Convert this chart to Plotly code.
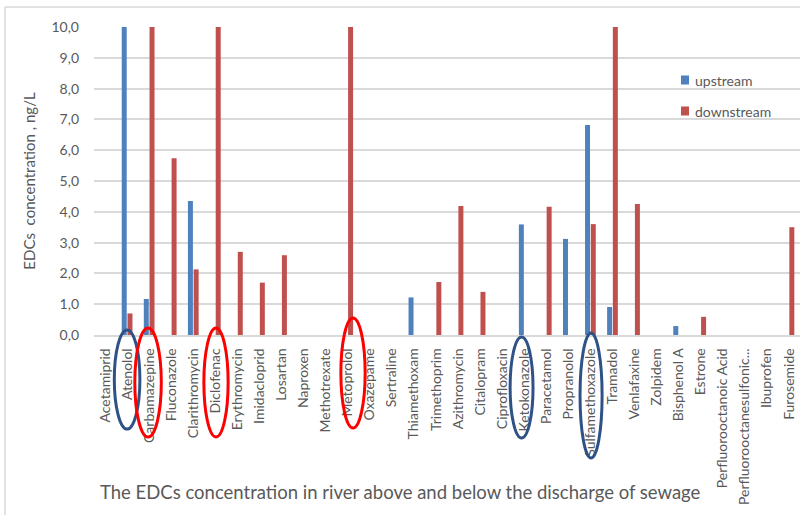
import plotly.graph_objects as go

# Compounds measured in the river
compounds = [
    "Acetamiprid", "Atenolol", "Carbamazepine", "Fluconazole", "Clarithromycin",
    "Diclofenac", "Erythromycin", "Imidacloprid", "Losartan", "Naproxen",
    "Methotrexate", "Metoprolol", "Oxazepame", "Sertraline", "Thiamethoxam",
    "Trimethoprim", "Azithromycin", "Citalopram", "Ciprofloxacin", "Ketokonazole",
    "Paracetamol", "Propranolol", "Sulfamethoxazole", "Tramadol", "Venlafaxine",
    "Zolpidem", "Bisphenol A", "Estrone", "Perfluorooctanoic Acid",
    "Perfluorooctanesulfonic...", "Ibuprofen", "Furosemide",
]

# Concentrations, ng/L (axis is capped at 10)
upstream = [
    0, 10.0, 1.17, 0, 4.35,
    0, 0, 0, 0, 0,
    0, 0, 0, 0, 1.22,
    0, 0, 0, 0, 3.59,
    0, 3.12, 6.82, 0.91, 0,
    0, 0.29, 0, 0,
    0, 0, 0,
]
downstream = [
    0, 0.70, 10.0, 5.74, 2.13,
    10.0, 2.70, 1.70, 2.59, 0,
    0, 10.0, 0, 0, 0,
    1.72, 4.19, 1.40, 0, 0,
    4.16, 0, 3.60, 10.0, 4.25,
    0, 0, 0.59, 0,
    0, 0, 3.50,
]

y_ticks = [0, 1, 2, 3, 4, 5, 6, 7, 8, 9, 10]

BLUE = "#4F81BD"
RED = "#C0504D"
GREY_TEXT = "#595959"
GRID = "#D9D9D9"
FONT = "Lato"

W, H = 800, 515
L, R, T, B = 94, 0, 27, 180
PW, PH = W - L - R, H - T - B


def px_x(px):
    return (px - L) / PW


def px_y(py):
    return (H - B - py) / PH


fig = go.Figure()
fig.add_trace(go.Bar(x=compounds, y=upstream, name="upstream",
                     marker=dict(color=BLUE, line=dict(width=0)), showlegend=False))
fig.add_trace(go.Bar(x=compounds, y=downstream, name="downstream",
                     marker=dict(color=RED, line=dict(width=0)), showlegend=False))

shapes = []
# Chart frame
shapes.append(dict(type="line", xref="paper", yref="paper",
                   x0=px_x(5), x1=px_x(5), y0=px_y(7), y1=px_y(516),
                   line=dict(color=GRID, width=1.5)))
shapes.append(dict(type="line", xref="paper", yref="paper",
                   x0=px_x(5), x1=px_x(802), y0=px_y(7), y1=px_y(7),
                   line=dict(color=GRID, width=1.5)))

# Ellipses around selected compound labels: (name, x offset, half width, top px, bottom px, colour)
ellipse_specs = [
    ("Atenolol", 0.0, 0.58, 330, 429, "#2F5286"),
    ("Carbamazepine", -0.05, 0.60, 328, 437, "#FF0000"),
    ("Diclofenac", 0.03, 0.55, 328, 437, "#FF0000"),
    ("Metoprolol", 0.24, 0.55, 318, 428, "#FF0000"),
    ("Ketokonazole", -0.12, 0.52, 337, 438, "#2F5286"),
    ("Sulfamethoxazole", 0.03, 0.50, 333, 458, "#2F5286"),
]
for name, dx, hw, top, bot, col in ellipse_specs:
    i = compounds.index(name)
    shapes.append(dict(type="circle", xref="x", yref="paper",
                       x0=i + dx - hw, x1=i + dx + hw,
                       y0=px_y(bot), y1=px_y(top),
                       line=dict(color=col, width=3), layer="above"))

# Legend built from small squares and labels
legend_items = [("upstream", BLUE, 80), ("downstream", RED, 111)]
annotations = []
for label, col, cy in legend_items:
    shapes.append(dict(type="rect", xref="paper", yref="paper",
                       x0=px_x(681), x1=px_x(689), y0=px_y(cy + 4.5), y1=px_y(cy - 4.5),
                       fillcolor=col, line=dict(width=0)))
    annotations.append(dict(text=label, xref="paper", yref="paper",
                            x=px_x(693), y=px_y(cy), xanchor="left", yanchor="middle",
                            showarrow=False, font=dict(family=FONT, size=14, color=GREY_TEXT)))

# Chart caption under the axis labels
annotations.append(dict(text="The EDCs concentration in river above and below the discharge of sewage",
                        xref="paper", yref="paper", x=px_x(400), y=px_y(492),
                        xanchor="center", yanchor="middle", showarrow=False,
                        font=dict(family=FONT, size=18.5, color=GREY_TEXT)))

fig.update_layout(
    width=W, height=H,
    margin=dict(l=L, r=R, t=T, b=B, autoexpand=False),
    paper_bgcolor="white", plot_bgcolor="white",
    separators=", ",
    barmode="group", bargap=0.48, bargroupgap=0.13,
    font=dict(family=FONT, color=GREY_TEXT),
    shapes=shapes, annotations=annotations,
    showlegend=False,
)
fig.update_xaxes(
    type="category", categoryorder="array", categoryarray=compounds,
    tickangle=-90, tickfont=dict(family=FONT, size=14, color=GREY_TEXT),
    showline=True, linecolor=GRID, linewidth=1.5, showgrid=False,
    ticks="", ticklabelstandoff=6, automargin=False,
)
fig.update_yaxes(
    range=[0, 10], tickvals=y_ticks, tickformat=".1f",
    tickfont=dict(family=FONT, size=14, color=GREY_TEXT),
    showgrid=True, gridcolor=GRID, gridwidth=1.5, zeroline=False,
    showline=False, ticks="", ticklabelstandoff=14, automargin=False,
    title=dict(text="EDCs  concentration , ng/L", standoff=12,
               font=dict(family=FONT, size=15, color=GREY_TEXT)),
)

fig.write_html("out.html")
